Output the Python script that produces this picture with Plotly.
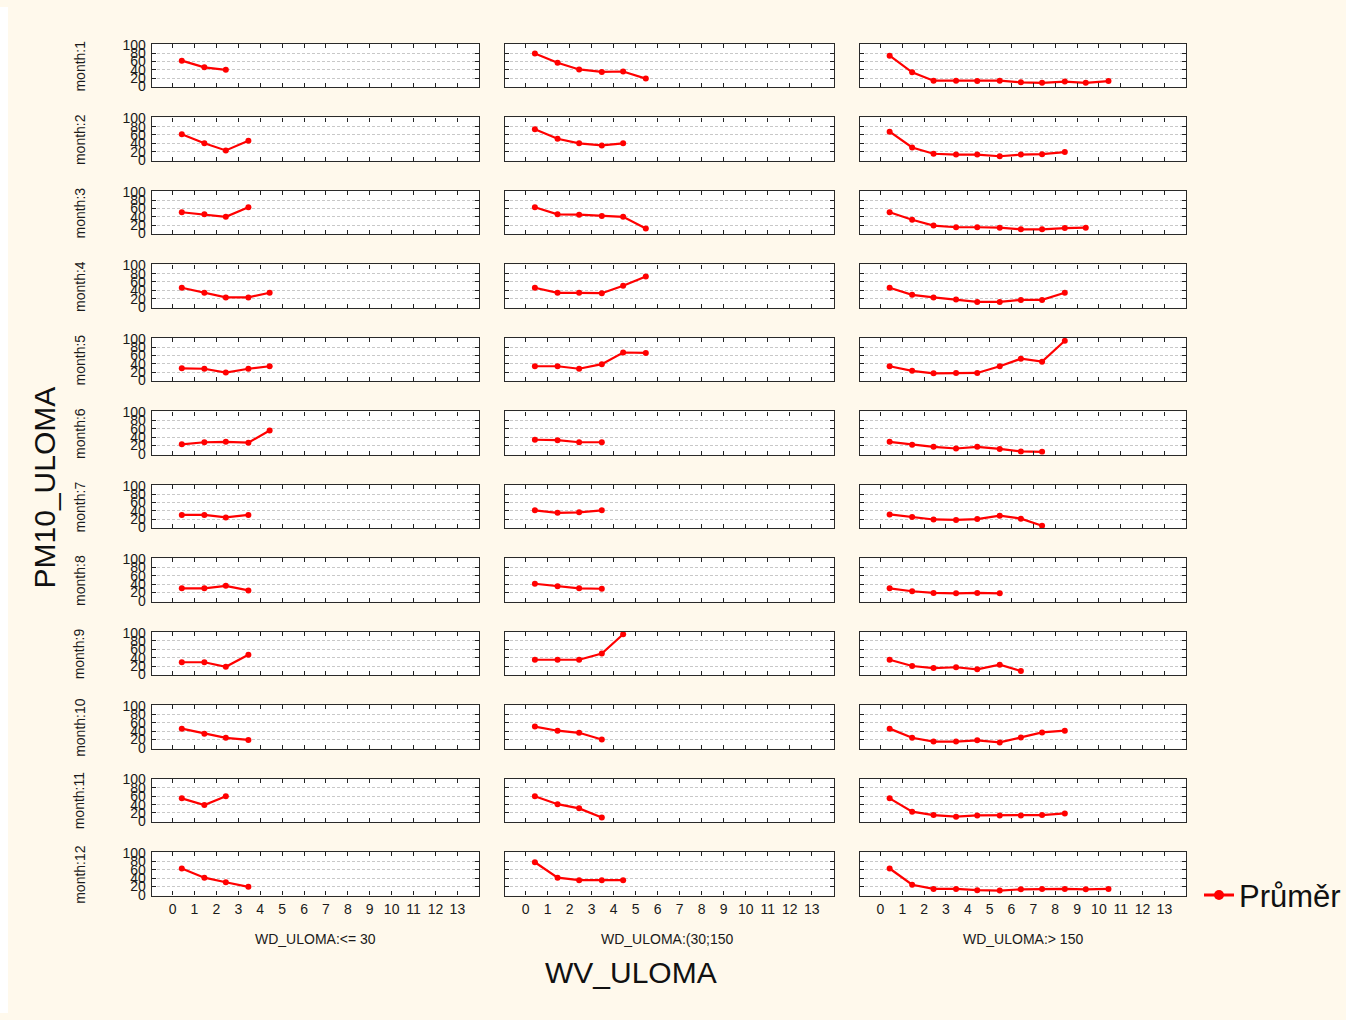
import plotly.graph_objects as go

W, H = 1346, 1020

# ---- data -------------------------------------------------------------
months = [f"month:{i}" for i in range(1, 13)]
wd_classes = ["WD_ULOMA:<= 30", "WD_ULOMA:(30;150", "WD_ULOMA:> 150"]
wv_x = [0.42, 1.45, 2.43, 3.46, 4.43, 5.46, 6.43, 7.4, 8.44, 9.4, 10.44]
x_ticks = list(range(0, 14))
y_ticks = [0, 20, 40, 60, 80, 100]

wd_le30 = [
    [62, 46, 40],
    [62, 40, 23, 46],
    [51, 46, 40, 63],
    [46, 34, 23, 23, 34],
    [29, 28, 19, 28, 34],
    [23, 28, 29, 27, 56],
    [30, 30, 24, 30],
    [30, 30, 36, 25],
    [29, 29, 18, 47],
    [46, 34, 24, 19],
    [55, 39, 60],
    [63, 41, 30, 19],
]
wd_30_150 = [
    [79, 57, 41, 35, 36, 19],
    [74, 51, 40, 35, 40],
    [63, 46, 45, 42, 40, 12],
    [46, 34, 34, 33, 51, 73],
    [34, 34, 28, 39, 67, 66],
    [34, 33, 28, 28],
    [41, 35, 36, 41],
    [41, 35, 30, 29],
    [35, 35, 35, 50, 96],
    [51, 41, 36, 20],
    [60, 41, 31, 9],
    [78, 41, 35, 35, 35],
]
wd_gt150 = [
    [74, 34, 14, 14, 13, 14, 10, 9, 12, 9, 13],
    [68, 30, 15, 13, 13, 9, 13, 14, 19],
    [51, 33, 19, 15, 15, 14, 10, 10, 13, 14],
    [46, 29, 23, 18, 12, 12, 17, 17, 34],
    [34, 23, 17, 18, 18, 34, 52, 45, 95],
    [29, 22, 17, 13, 17, 12, 6, 5],
    [31, 25, 19, 18, 20, 28, 21, 4],
    [30, 23, 19, 18, 19, 18],
    [35, 20, 15, 17, 12, 23, 8],
    [46, 24, 15, 15, 18, 13, 25, 37, 41],
    [55, 23, 15, 11, 14, 14, 14, 15, 19],
    [63, 24, 14, 14, 11, 10, 13, 14, 14, 13, 14],
]
columns = [wd_le30, wd_30_150, wd_gt150]

# ---- layout geometry (pixels) ----------------------------------------
col_x = [(152, 480), (505.5, 835), (861, 1188)]
row_top0, row_pitch, row_h = 43.3, 73.5, 43.4

FONT = "Liberation Sans, Arial, sans-serif"
RED = "#FF0000"
CREAM = "#FFF9EC"


def px_x(v):
    return v / W


def px_y(v):
    # vertical correction for the rendered page
    v = (v - 6.3) / 0.9866
    return 1 - v / H


fig = go.Figure()
layout = {}
annotations = []

for r in range(12):
    top = row_top0 + r * row_pitch
    bot = top + row_h
    for c in range(3):
        idx = r * 3 + c + 1
        sx = "" if idx == 1 else str(idx)
        vals = columns[c][r]
        fig.add_trace(go.Scatter(
            x=wv_x[:len(vals)], y=vals, mode="lines+markers",
            line=dict(color=RED, width=2.2),
            marker=dict(color=RED, size=6, symbol="circle"),
            xaxis="x" + sx, yaxis="y" + sx, showlegend=False,
            hoverinfo="x+y",
        ))
        x0, x1 = col_x[c]
        layout["xaxis" + sx] = dict(
            domain=[px_x(x0), px_x(x1)], anchor="y" + sx,
            range=[-0.95, 14.0], tickvals=x_ticks,
            ticktext=[str(t) for t in x_ticks],
            showticklabels=(r == 11), ticks="inside", ticklen=4,
            tickcolor="#222", tickwidth=1,
            showline=True, linecolor="#2a2a2a", linewidth=1.3, mirror="ticks",
            showgrid=False, zeroline=False, fixedrange=True,
            tickfont=dict(family=FONT, size=14, color="#1a1a1a"),
            ticklabelstandoff=0,
        )
        layout["yaxis" + sx] = dict(
            domain=[px_y(bot), px_y(top)], anchor="x" + sx,
            range=[-2, 102], tickvals=y_ticks,
            showticklabels=(c == 0), ticks="inside", ticklen=4,
            tickcolor="#222", tickwidth=1,
            showline=True, linecolor="#2a2a2a", linewidth=1.3, mirror="ticks",
            showgrid=True, gridcolor="#C8C8C8", gridwidth=1, griddash="3px,2px",
            zeroline=False, fixedrange=True,
            tickfont=dict(family=FONT, size=14, color="#1a1a1a"),
            ticklabelstandoff=2,
        )
    # row label
    annotations.append(dict(
        text=months[r], x=px_x(80), y=px_y(top + row_h / 2),
        xref="paper", yref="paper", showarrow=False, textangle=-90,
        font=dict(family=FONT, size=14, color="#1a1a1a"),
        xanchor="center", yanchor="middle",
    ))

# column labels
annotations.append(dict(text=wd_classes[0], x=px_x(316), y=px_y(939),
                        xref="paper", yref="paper", showarrow=False,
                        font=dict(family=FONT, size=14, color="#1a1a1a"),
                        xanchor="center", yanchor="middle"))
annotations.append(dict(text=wd_classes[1], x=px_x(600), y=px_y(939),
                        xref="paper", yref="paper", showarrow=False,
                        font=dict(family=FONT, size=14, color="#1a1a1a"),
                        xanchor="left", yanchor="middle"))
annotations.append(dict(text=wd_classes[2], x=px_x(1025), y=px_y(939),
                        xref="paper", yref="paper", showarrow=False,
                        font=dict(family=FONT, size=14, color="#1a1a1a"),
                        xanchor="center", yanchor="middle"))
# axis titles
annotations.append(dict(text="WV_ULOMA", x=px_x(632), y=px_y(972),
                        xref="paper", yref="paper", showarrow=False,
                        font=dict(family=FONT, size=30, color="#111"),
                        xanchor="center", yanchor="middle"))
annotations.append(dict(text="PM10_ULOMA", x=px_x(45), y=px_y(487),
                        xref="paper", yref="paper", showarrow=False,
                        textangle=-90,
                        font=dict(family=FONT, size=30, color="#111"),
                        xanchor="center", yanchor="middle"))

# legend entry
fig.add_trace(go.Scatter(
    x=[None], y=[None], mode="lines+markers", name="Průměr",
    line=dict(color=RED, width=3), marker=dict(color=RED, size=10),
    showlegend=True,
))

fig.update_layout(
    width=W, height=H,
    margin=dict(l=0, r=0, t=0, b=0),
    paper_bgcolor=CREAM, plot_bgcolor="white",
    annotations=annotations,
    shapes=[dict(type="rect", xref="paper", yref="paper",
                 x0=0, x1=px_x(8), y0=0, y1=1,
                 fillcolor="white", line=dict(width=0), layer="below")],
    legend=dict(x=px_x(1201), y=px_y(895), xanchor="left", yanchor="middle",
                bgcolor="rgba(0,0,0,0)", borderwidth=0,
                font=dict(family=FONT, size=31, color="#111"),
                itemsizing="trace"),
    **layout,
)

fig.write_html("out.html")
